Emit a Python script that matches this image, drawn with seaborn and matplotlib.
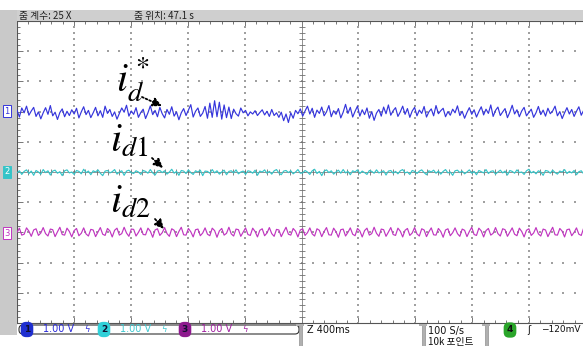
import numpy as np
import pandas as pd
import matplotlib
matplotlib.use("Agg")
import matplotlib.pyplot as plt
import matplotlib.transforms as mtransforms
from matplotlib.patches import Rectangle, FancyBboxPatch
import seaborn as sns

# ---------------- data (ripple, in mV) ----------------
ch1_mv = [150, -80, 220, 60, 280, -20, 120, 240, -60, 90, -140, 60, 230, 10, 300, -40, 80, -160, 70, 190, -70, 110, -30, 160, 20, 210, -110, 90, 260, 0, 140, -100, 60, 240, -40, 130, -90, 280, 40, 170,
          -60, 90, -150, 40, 220, 80, 310, -50, 120, 10, 230, -90, 70, 180, -130, 60, 290, 0, 140, -70, 240, 30, -110, 170, 10, 260, -50, 90, -170, 60, 200, -30, 150, 330, -80, 110, 220, -60, 50, 270,
          -120, 380, -90, 460, -70, 410, -150, 320, -100, 250, -130, 180, 30, -50, 220, 60, 140, -40, 90, 20, 130, -30, 70, 160, -10, 110, -60, 170, -30, 60, -90, 80, -200, 20, -260, 60, -120, 140, 30, 190,
          -50, 120, 280, 20, 210, -90, 150, 40, 250, -40, 90, 300, -70, 130, 10, 200, -110, 80, 340, 40, 240, -80, 110, 280, -50, 160, 0, 220, -120, 100, -190, 50, 170, -50, 250, 30, 320, -20, 130, 230,
          -60, 90, 280, 10, 200, -90, 120, 240, -40, 150, 40, 270, -80, 90, 190, -40, 300, 30, 130, 210, -70, 100, -20, 180, 60, 290, -30, 110, -120, 70, 230, 10, 160, -80, 100, 260, -10, 180, 40, 320,
          -60, 140, 250, -30, 90, 200, -100, 80, 310, 20, 160, -70, 120, 240, -40, 70, 180, -90, 60, 270, 0, 150, -50, 210, 30, 120, 280, -40, 100, -130, 60, 230, 20, 170, -60, 110, 260, -20, 140, 200]
ch2_mv = [-30, 40, -80, 20, 70, -50, 30, -110, 50, 0, -70, 80, -20, 40, -100, 30, 60, -40, 10, -120, 40, 70, -30, 0, -80, 50, 20, -60, 90, -20, 30, -90, 40, 0, 70, -40, -120, 30, 50, -30,
          10, 80, -70, 0, 40, -110, 30, 60, -20, -50, 40, 0, -80, 50, 20, -40, 80, -30, -100, 30, 50, -20, 40, -70, 0, 90, -40, 20, -110, 50, 30, -50, 70, -20, -80, 40, 0, 60, -120, 30,
          20, -40, 80, -30, 40, -70, 0, 60, -90, 20, 40, -30, 70, -60, 0, 30, -80, 40, 20, -40, 60, -110, 30, 0, 70, -40, 20, -70, 40, 80, -30, -90, 30, 50, -20, 40, -60, 0, 80, -40,
          -30, 50, 0, -80, 40, 90, -50, 20, -120, 30, 70, -20, 40, -70, 0, 60, -40, 80, -30, 20, -90, 40, 0, 70, -50, 30, -20, -80, 50, 20, -40, 70, -30, 0, 40, -100, 30, 50, -40, 20,
          -60, 40, 80, -30, 0, -80, 50, 20, -50, 30, 70, -20, -90, 40, 0, 60, -40, 30, -70, 20, 80, -30, 0, -110, 40, 60, -20, 30, -60, 0, 70, -40, 20, -90, 50, 10, -30, 80, -50, 20,
          40, -70, 0, 60, -30, 30, -100, 50, 20, -40, 70, -20, 0, -80, 40, 90, -30, 20, -60, 40, 0, -110, 50, 30, -40, 60, -20, -70, 30, 0, 80, -50, 20, -30, 50, -90, 10, 40, -60, 20]
ch3_mv = [0, 140, -90, -60, 150, 40, -130, 80, 120, -100, -20, 160, -40, -120, 110, 90, -140, 20, 170, -70, -90, 140, 30, -150, 60, 130, -110, -30, 150, -50, -120, 100, 80, -140, 10, 160, -60, -100, 130, 50,
          -150, 70, 140, -90, -40, 170, -20, -130, 110, 100, -120, 0, 150, -70, -80, 140, 40, -160, 80, 120, -100, -10, 160, -40, -130, 120, 70, -140, 30, 170, -80, -90, 130, 20, -150, 90, 110, -110, -20, 150,
          -60, -110, 140, 60, -160, 50, 130, -90, -30, 170, -50, -120, 110, 90, -130, 10, 150, -70, -100, 140, 30, -150, 70, 120, -110, -20, 160, -40, -130, 100, 80, -140, 20, 170, -60, -90, 130, 40, -150, 80,
          120, -100, -10, 150, -50, -120, 120, 70, -140, 30, 160, -80, -90, 140, 20, -160, 90, 110, -120, 0, 150, -60, -110, 130, 50, -150, 60, 140, -90, -40, 170, -30, -130, 110, 90, -130, 10, 160, -70, -100,
          140, 40, -150, 70, 130, -100, -20, 160, -50, -120, 120, 80, -140, 20, 150, -80, -90, 130, 30, -160, 80, 120, -110, -10, 150, -40, -130, 110, 70, -140, 30, 170, -70, -100, 140, 50, -150, 60, 130, -90,
          -30, 160, -40, -120, 120, 90, -130, 10, 150, -60, -110, 140, 30, -150, 70, 120, -100, -20, 160, -50, -120, 110, 80, -140, 20, 170, -80, -90, 130, 40, -150, 90, 110, -110, 0, 150, -60, -100, 140, 50]
channels = ["1", "2", "3"]
channel_position_div = {"1": 1.9, "2": 0.0, "3": -2.0}
volts_per_div = [1.00, 1.00, 1.00]
time_per_div_s = 0.4
header_labels = ["줌 계수: 25 X", "줌 위치: 47.1 s"]
status_labels = ["Z 400ms", "100 S/s", "10k 포인트", "−120mV"]
trace_labels = [r"$i_d^*$", r"$i_{d1}$", r"$i_{d2}$"]

colors = {"1": "#3535dc", "2": "#35c4c8", "3": "#c036c0"}

rows = []
for ch, vals in zip(channels, [ch1_mv, ch2_mv, ch3_mv]):
    n = len(vals)
    t = np.linspace(0, 10 * time_per_div_s, n)
    for ti, v in zip(t, vals):
        rows.append({"t": ti, "v": channel_position_div[ch] + v / 1000.0, "ch": ch})
df = pd.DataFrame(rows)

# ---------------- figure ----------------
sns.set_theme(style="white")
plt.rcParams["mathtext.fontset"] = "stix"
W, H = 583, 346
fig = plt.figure(figsize=(W / 100, H / 100), dpi=100)
fig.patch.set_facecolor("white")
ID = mtransforms.IdentityTransform()
KR = ["Noto Sans CJK KR", "DejaVu Sans"]

def P(px, py):
    return (px, H - py)

# plot area: x 17..586, y 21..323 px
L, R, T, B = 17, 586, 21, 323
ax = fig.add_axes([L / W, 1 - B / H, (R - L) / W, (B - T) / H])
ax.set_facecolor("white")
ax.set_xlim(0, 10 * time_per_div_s)
ax.set_ylim(-5, 5)

# dotted graticule
gc = "#a0a0a0"
xs_major = np.arange(1, 10) * time_per_div_s
ys_major = np.arange(-4, 5)
xs_minor = np.arange(0, 50.5) * time_per_div_s / 5
ys_minor = np.arange(-25, 26) * 0.2
for xm in xs_major:
    if abs(xm - 5 * time_per_div_s) < 1e-9:
        continue
    ax.scatter(np.full_like(ys_minor, xm), ys_minor, s=1.2, marker="s", color=gc, linewidths=0, zorder=1)
for ym in ys_major:
    if ym == 0:
        continue
    ax.scatter(xs_minor, np.full_like(xs_minor, ym), s=1.2, marker="s", color=gc, linewidths=0, zorder=1)
# centre cross with ticks
ax.axvline(5 * time_per_div_s, color="#808080", lw=0.6, zorder=1)
ax.axhline(0, color="#808080", lw=0.6, zorder=1)
ax.plot(np.full_like(ys_minor, 5 * time_per_div_s), ys_minor, ls="none", marker="_", ms=4, mew=0.6, color="#707070", zorder=1)
ax.plot(xs_minor, np.zeros_like(xs_minor), ls="none", marker="|", ms=4, mew=0.6, color="#707070", zorder=1)

# traces
sns.lineplot(data=df, x="t", y="v", hue="ch", palette=colors, linewidth=0.85,
             estimator=None, legend=False, ax=ax, zorder=3)

ax.set_xlabel("")
ax.set_ylabel("")
ax.set_xticks(xs_major)
ax.set_yticks(ys_major)
ax.set_xticks(xs_minor, minor=True)
ax.set_yticks(ys_minor, minor=True)
ax.tick_params(which="both", direction="in", top=True, bottom=True, left=True, right=False,
               labelbottom=False, labelleft=False, color="#606060", width=0.6)
ax.tick_params(which="major", length=4)
ax.tick_params(which="minor", length=2.5)
for s in ax.spines.values():
    s.set_color("#555555")
    s.set_linewidth(0.8)

# ---------------- chrome ----------------
fig.patches.append(Rectangle(P(0, 335), 17, 325, transform=ID, facecolor="#c9c9c9", edgecolor="none", zorder=0))
fig.patches.append(Rectangle(P(17, 21), W - 17, 11, transform=ID, facecolor="#cfcfcf", edgecolor="none", zorder=0))
fig.text(*P(19, 16), header_labels[0], transform=ID, fontsize=7, family=KR, va="center", ha="left", color="#222222")
fig.text(*P(134, 16), header_labels[1], transform=ID, fontsize=7, family=KR, va="center", ha="left", color="#222222")

# channel markers on the left strip
fig.text(*P(7, 111), "1", transform=ID, fontsize=6, ha="center", va="center", color=colors["1"],
         bbox=dict(boxstyle="square,pad=0.15", facecolor="white", edgecolor=colors["1"], lw=0.7))
fig.text(*P(7, 172), "2", transform=ID, fontsize=6, ha="center", va="center", color="white",
         bbox=dict(boxstyle="square,pad=0.15", facecolor=colors["2"], edgecolor=colors["2"], lw=0.7))
fig.text(*P(7, 233), "3", transform=ID, fontsize=6, ha="center", va="center", color=colors["3"],
         bbox=dict(boxstyle="square,pad=0.15", facecolor="white", edgecolor=colors["3"], lw=0.7))

# trace labels with dotted arrows
lab_specs = [(116, 91, 142, 97, 162, 106), (110, 152, 152, 158, 163, 168), (110, 213, 155, 219, 164, 229)]
for txt, (lx, ly, ax0, ay0, ax1, ay1) in zip(trace_labels, lab_specs):
    fig.text(*P(lx, ly), txt, transform=ID, fontsize=29, color="black", ha="left", va="baseline")
    ann = ax.annotate("", xy=P(ax1, ay1), xytext=P(ax0, ay0), xycoords=ID, textcoords=ID,
                      arrowprops=dict(arrowstyle="-|>,head_length=0.45,head_width=0.22",
                                      linestyle=(0, (1, 1.2)), color="black", lw=1.3,
                                      shrinkA=0, shrinkB=0))
    ann.set_zorder(5)

# bottom status bar
fig.patches.append(FancyBboxPatch(P(19, 334), 280, 9, transform=ID, boxstyle="round,pad=0,rounding_size=4",
                                  facecolor="white", edgecolor="#333333", lw=0.8, zorder=2))
chip_cols = ["#1f2fd0", "#30d0d8", "#8e1a8e"]
txt_cols = ["#2a2ad8", "#40c8d0", "#a020a0"]
chip_x = [27, 104, 185]
for ch, cx, cc, tc, vpd in zip(channels, chip_x, chip_cols, txt_cols, volts_per_div):
    fig.text(*P(cx, 329.5), ch, transform=ID, fontsize=6.5, ha="center", va="center", color="#101030", weight="bold",
             bbox=dict(boxstyle="round,pad=0.35,rounding_size=0.6", facecolor=cc, edgecolor="none"), zorder=4)
    fig.text(*P(cx + 16, 329.5), f"{vpd:.2f} V", transform=ID, fontsize=7, ha="left", va="center",
             color=tc, zorder=4)
    fig.text(*P(cx + 60, 329.5), "ϟ", transform=ID, fontsize=6, ha="center", va="center",
             color=tc, zorder=4)

for bx in (300, 423, 486):
    fig.patches.append(Rectangle(P(bx - 1.5, 346), 3, 22, transform=ID, facecolor="#b0b0b0", edgecolor="#808080", lw=0.4, zorder=2))
    fig.patches.append(Rectangle(P(bx - 4, 326), 8, 2, transform=ID, facecolor="#b0b0b0", edgecolor="none", zorder=2))

fig.text(*P(307, 330), status_labels[0], transform=ID, fontsize=7, ha="left", va="center", color="#111111")
fig.text(*P(428, 331), status_labels[1], transform=ID, fontsize=7, ha="left", va="center", color="#111111")
fig.text(*P(428, 342), status_labels[2], transform=ID, fontsize=7, ha="left", va="center", color="#111111", family=KR)
fig.text(*P(510, 330), "4", transform=ID, fontsize=6.5, ha="center", va="center", color="#111111", weight="bold",
         bbox=dict(boxstyle="round,pad=0.35,rounding_size=0.6", facecolor="#2aa52a", edgecolor="none"))
fig.text(*P(529, 330), "ʃ", transform=ID, fontsize=7, ha="center", va="center", color="#111111")
fig.text(*P(581, 330), status_labels[3], transform=ID, fontsize=6.5, ha="right", va="center", color="#111111")

fig.savefig("out.png", dpi=100)
